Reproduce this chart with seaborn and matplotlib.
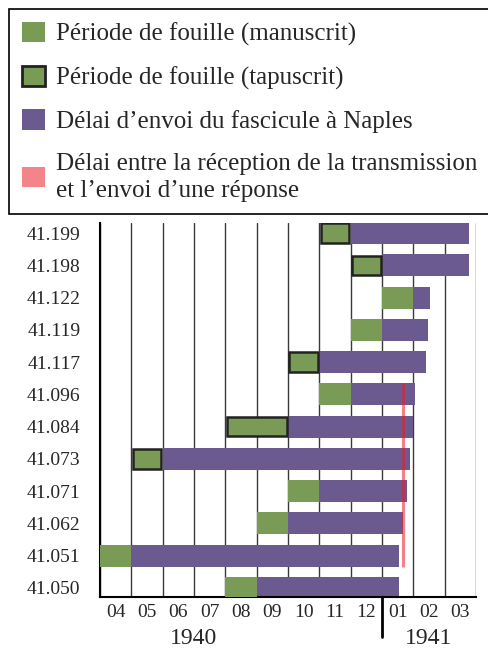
import seaborn as sns
import matplotlib.pyplot as plt
import matplotlib.patches as mpatches
import pandas as pd

# Fascicules, de haut en bas
fascicules = ['41.199', '41.198', '41.122', '41.119', '41.117', '41.096',
              '41.084', '41.073', '41.071', '41.062', '41.051', '41.050']

# Mois comptés depuis le début d'avril 1940 (0 = 01/04/1940)
fouille_debut = [7, 8, 9, 8, 6, 7, 4, 1, 6, 5, 0, 4]
fouille_fin   = [8, 9, 10, 9, 7, 8, 6, 2, 7, 6, 1, 5]
envoi_fin     = [11.78, 11.78, 10.53, 10.47, 10.39, 10.04,
                 10.0, 9.9, 9.79, 9.66, 9.54, 9.54]
tapuscrit     = [True, True, False, False, True, False,
                 True, True, False, False, False, False]

# Délai réception / réponse (ligne rouge)
reponse_mois = 9.68
reponse_de, reponse_a = '41.096', '41.051'

# Axe des x
mois = ['04', '05', '06', '07', '08', '09', '10', '11', '12', '01', '02', '03']
annees = ['1940', '1941']

df = pd.DataFrame({'fasc': fascicules, 'debut': fouille_debut,
                   'fin': fouille_fin, 'envoi': envoi_fin, 'tapu': tapuscrit})
df['pos'] = range(len(df))

# Style
sns.set_style('white')
plt.rcParams['font.family'] = ['Liberation Serif', 'DejaVu Serif']

vert = '#7a9b56'
violet = '#6b5a8f'
rose = '#f3848a'
h = 0.68
# demi-épaisseur du cadre des tapuscrits (en mois / en lignes), pour le garder à l'intérieur
dx, dy = 0.04, 0.04

fig = plt.figure(figsize=(4.89, 6.48), dpi=100)
ax = fig.add_axes([100/489, 51/648, 376/489, 374/648])

# Barres : délai d'envoi puis période de fouille
ax.barh(df['pos'], df['envoi'] - df['fin'], left=df['fin'], height=h,
        color=violet, linewidth=0, zorder=2)
manu = df[~df['tapu']]
tap = df[df['tapu']]
ax.barh(manu['pos'], manu['fin'] - manu['debut'], left=manu['debut'], height=h,
        color=vert, linewidth=0, zorder=3)
ax.barh(tap['pos'], tap['fin'] - tap['debut'] - 2 * dx, left=tap['debut'] + dx,
        height=h - 2 * dy, color=vert, edgecolor='#222222', linewidth=1.8, zorder=3)

# Ligne rouge
y0 = fascicules.index(reponse_de) - h / 2
y1 = fascicules.index(reponse_a) + h / 2
ax.vlines(reponse_mois, y0, y1, color='#e91c26', alpha=0.55, lw=2.2, zorder=4)

# Axes
ax.set_xlim(0, len(mois))
ax.set_ylim(11.28, -0.31)
ax.set_xticks([i + 0.5 for i in range(len(mois))])
ax.set_xticklabels(mois, fontsize=14)
ax.set_xticks(range(len(mois) + 1), minor=True)
ax.tick_params(axis='x', which='major', length=0, pad=5)
ax.tick_params(axis='x', which='minor', length=18, width=1, color='#333333')
ax.set_yticks(df['pos'])
ax.set_yticklabels(fascicules, fontsize=14)
ax.set_yticks([-0.31] + [i + 0.56 for i in range(len(fascicules) - 1)], minor=True)
ax.tick_params(axis='y', which='major', length=0, pad=14)
ax.tick_params(axis='y', which='minor', length=13, width=1.5, color='black')

ax.grid(False)
ax.grid(which='minor', axis='x', color='#3a3a3a', lw=1)
ax.set_axisbelow(True)
for s in ['top', 'right']:
    ax.spines[s].set_visible(False)
ax.spines['left'].set_color('black')
ax.spines['left'].set_linewidth(1.5)
ax.spines['bottom'].set_color('black')
ax.spines['bottom'].set_linewidth(1.5)

# Séparation des années
coupe = mois.index('01')
ax.plot([coupe, coupe], [0, -40/374], transform=ax.get_xaxis_transform(),
        color='black', lw=2, clip_on=False)
ax.text(3.0, -0.11, annees[0], transform=ax.get_xaxis_transform(),
        ha='center', va='center', fontsize=17)
ax.text(10.5, -0.11, annees[1], transform=ax.get_xaxis_transform(),
        ha='center', va='center', fontsize=17)

# Légende
handles = [mpatches.Patch(facecolor=vert, linewidth=0),
           mpatches.Patch(facecolor=vert, edgecolor='#222222', linewidth=2),
           mpatches.Patch(facecolor=violet, linewidth=0),
           mpatches.Patch(facecolor=rose, linewidth=0)]
labels = ['Période de fouille (manuscrit)',
          'Période de fouille (tapuscrit)',
          'Délai d\u2019envoi du fascicule à Naples',
          'Délai entre la réception de la transmission\net l\u2019envoi d\u2019une réponse']
leg = fig.legend(handles, labels, loc='upper left', mode='expand',
                 bbox_to_anchor=(9.3/489, 1 - 9.3/648, 1.0, 0),
                 fontsize=18, handlelength=0.92, handleheight=0.88,
                 handletextpad=0.45, labelspacing=0.78, borderpad=0.5,
                 borderaxespad=0, fancybox=False, framealpha=1)
leg.get_texts()[3].set_linespacing(1.3)
leg.get_frame().set_edgecolor('black')
leg.get_frame().set_linewidth(1.2)

fig.savefig('out.png', dpi=100)
